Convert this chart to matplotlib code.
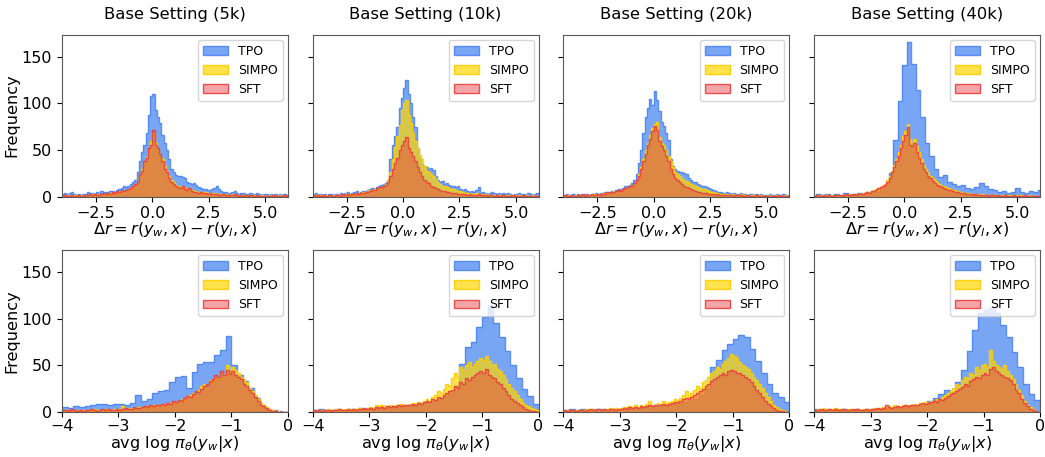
import numpy as np
import matplotlib.pyplot as plt
from matplotlib.patches import Patch

titles = ['Base Setting (5k)', 'Base Setting (10k)', 'Base Setting (20k)', 'Base Setting (40k)']

# ---- top row: reward margin, bins of 0.1 from -4 to 6 (40k TPO: 0.2 from -3.9) ----
tpo_dr_5k = [3,4,3,4,5,3,2,3,2,3, 3,5,4,4,3,5,4,6,5,5, 5,6,6,5,7,8,9,11,10,12,
             14,16,18,26,38,48,56,68,88,108, 110,93,85,79,66,58,50,40,30,27,
             23,22,22,21,20,16,15,14,15,13, 10,9,8,8,7,7,8,9,11,8,
             6,5,5,4,4,5,6,4,3,4, 4,3,3,4,3,3,4,3,2,3, 3,2,3,2,3,2,3,2,3,2]
simpo_dr_5k = [1,1,2,1,1,2,1,1,2,1, 2,1,2,3,2,2,3,2,3,3, 3,4,3,4,5,4,6,5,7,7,
               8,10,12,15,22,30,36,43,50,60, 68,58,50,44,40,33,28,22,18,16,
               13,11,10,11,9,8,9,7,6,6, 5,5,4,5,4,4,3,4,3,3,
               3,2,3,2,2,3,2,2,2,1, 2,2,1,2,1,2,1,1,2,1, 1,1,2,1,1,1,2,1,1,1]
sft_dr_5k = [1,2,1,1,2,1,1,2,1,1, 2,2,3,2,3,2,2,3,4,3, 4,3,5,4,6,5,7,6,7,8,
             9,11,14,16,24,28,38,42,52,56, 72,56,52,46,38,30,26,20,16,14,
             12,10,9,12,8,7,9,6,5,5, 4,5,4,4,3,4,3,3,3,2,
             2,3,2,2,2,2,3,2,1,2, 1,2,1,2,1,1,2,1,1,1, 1,1,1,2,1,1,1,1,2,1]

tpo_dr_10k = [3,4,2,3,2,3,2,3,3,2, 3,2,4,3,4,5,3,4,5,6, 4,5,6,6,7,8,9,8,10,12,
              13,14,15,18,40,56,65,75,95,106, 117,125,110,100,85,75,52,42,35,33,
              32,30,31,29,22,18,16,17,14,15, 13,11,12,10,11,8,7,8,6,5,
              6,5,7,10,4,5,4,3,4,5, 4,3,4,3,4,3,4,3,2,3, 3,4,3,3,2,4,3,2,3,4]
simpo_dr_10k = [1,2,1,2,1,1,2,1,1,2, 2,1,2,2,3,2,3,2,3,4, 3,4,5,5,6,7,6,8,9,10,
                10,12,14,18,26,40,53,65,77,93, 100,104,88,79,68,60,52,45,40,33,
                28,26,24,22,19,16,14,12,11,10, 9,8,8,7,6,6,5,4,4,4,
                3,3,4,3,3,2,3,2,2,2, 2,2,2,1,2,2,1,2,1,2, 1,2,1,1,2,1,1,2,1,1]
sft_dr_10k = [2,1,2,1,2,1,1,2,1,1, 2,2,1,3,2,3,2,3,3,4, 3,4,4,5,5,6,7,7,9,10,
              10,11,13,16,22,30,36,42,50,56, 60,64,52,48,44,38,32,26,22,18,
              16,15,12,10,9,8,7,6,6,5, 5,4,4,4,3,3,3,3,2,3,
              2,2,2,3,2,2,2,1,2,2, 1,2,1,1,2,1,1,1,2,1, 1,1,1,2,1,1,1,1,1,1]

tpo_dr_20k = [2,3,2,2,3,2,3,2,2,3, 3,2,3,3,4,3,4,4,5,5, 5,6,6,7,8,8,9,11,12,13,
              15,18,24,36,50,68,85,95,105,98, 113,104,92,80,76,68,61,40,33,30,
              28,27,26,25,24,20,18,16,16,14, 13,12,11,10,9,8,7,6,5,5,
              4,4,5,4,3,4,3,3,4,3, 3,2,3,3,2,3,2,3,2,2, 2,3,2,2,3,2,2,3,2,2]
simpo_dr_20k = [1,1,2,1,1,2,1,1,1,2, 2,2,2,3,2,3,3,3,4,4, 4,5,6,5,6,7,8,9,10,12,
                12,14,18,24,32,40,50,58,66,74, 78,80,64,58,56,50,44,38,32,27,
                24,22,20,18,17,15,14,13,11,10, 9,8,8,7,6,5,5,4,4,3,
                3,3,3,2,3,2,2,2,3,2, 2,2,1,2,2,1,2,2,1,1, 1,2,1,1,2,1,1,1,2,1]
sft_dr_20k = [2,1,1,2,1,1,2,1,3,1, 2,2,3,2,2,3,2,3,3,5, 4,5,5,6,7,6,8,9,10,11,
              12,15,18,22,30,38,46,55,62,70, 76,72,60,54,50,44,38,30,24,20,
              18,16,14,12,10,9,8,7,6,5, 5,4,4,4,3,3,3,2,3,2,
              2,2,2,2,2,1,2,2,2,1, 1,2,1,1,1,2,1,1,1,1, 1,1,1,1,1,2,1,1,1,1]

tpo_dr_40k = [3,2,3,2,3,2,4,3,3,4, 4,5,6,5,8,11,25,61,103,141,
              166,142,115,85,58,44,30,21,23,16, 14,12,13,9,8,10,15,12,8,7,
              5,6,4,5,9,5,4,6,5,7]
simpo_dr_40k = [2,1,2,1,1,2,1,2,1,1, 2,1,2,2,2,3,2,3,3,3, 3,4,4,5,5,6,7,8,9,10,
                12,14,18,22,28,34,40,48,56,65, 70,78,62,58,62,54,48,40,34,30,
                26,22,20,18,16,14,12,11,10,9, 8,7,7,6,5,5,4,4,4,3,
                3,3,3,2,3,2,2,2,2,2, 2,2,1,2,2,1,2,1,1,2, 1,2,1,1,1,2,1,1,1,1]
sft_dr_40k = [1,2,1,1,2,1,2,1,1,2, 2,2,1,2,3,2,2,3,2,3, 3,3,4,5,4,6,6,7,9,10,
              11,13,16,20,26,32,38,44,52,60, 66,75,56,54,58,48,42,36,30,26,
              22,20,17,15,13,12,10,9,8,7, 7,6,5,5,4,4,4,3,3,3,
              2,3,2,2,2,2,2,1,2,2, 1,2,1,1,2,1,1,1,2,1, 1,1,1,2,1,1,1,1,1,1]

# ---- bottom row: avg log-prob, TPO bins of 0.1, SIMPO / SFT bins of 0.05, from -4 to 0 ----
tpo_lp_5k = [5,4,6,5,6,8,9,9,7,9, 9,8,10,18,12,14,20,22,24,32,
             37,39,26,43,52,54,54,61,67,82, 50,40,33,26,15,8,3,2,1,0]
simpo_lp_5k = [2,1,2,1,1,2,1,2,2,1,2,3,2,1,2,3,2,2,3,2,
               3,6,2,3,4,3,4,5,4,5,6,5,7,6,8,7,9,8,10,11,
               10,12,14,13,16,18,20,17,24,28,30,26,34,32,38,36,42,40,50,44,
               48,45,42,38,35,32,26,22,18,14,10,8,5,3,2,1,1,0,0,0]
sft_lp_5k = [2,2,1,3,2,1,2,1,2,2,3,2,1,2,3,2,3,2,2,3,
             2,3,4,3,3,5,4,4,5,6,5,7,6,7,8,9,8,10,9,12,
             11,13,12,15,17,16,19,22,21,25,28,30,33,35,40,38,44,40,45,41,
             44,40,38,35,30,28,24,20,16,12,8,6,4,2,1,1,0,0,0,0]

tpo_lp_10k = [2,3,2,2,3,2,3,3,4,3, 4,5,6,5,6,7,8,8,9,10,
              11,12,14,17,20,28,52,70,75,91, 102,115,95,80,65,50,36,25,17,9]
simpo_lp_10k = [2,1,2,2,1,3,2,2,3,2,2,3,2,3,2,3,4,3,3,4,
                5,4,7,5,8,6,5,7,6,8,7,9,8,7,9,10,9,11,10,12,
                14,12,16,18,22,20,25,30,28,36,42,38,48,45,50,54,48,52,55,58,
                56,60,55,50,52,46,44,40,35,30,26,22,18,14,10,8,6,4,3,2]
sft_lp_10k = [2,1,2,1,2,2,1,2,2,3,2,2,3,2,3,2,3,3,4,3,
              4,3,5,4,5,4,6,5,6,5,7,6,7,8,7,9,8,10,9,11,
              12,11,14,13,16,15,18,20,22,24,28,26,32,30,36,34,38,40,42,44,
              42,46,40,38,36,32,30,26,22,18,14,12,10,7,5,3,2,1,1,0]

tpo_lp_20k = [2,3,2,3,2,3,3,2,3,3, 3,4,4,5,5,6,7,7,8,9,
              10,11,12,14,18,25,48,56,66,73, 78,83,80,68,55,42,30,20,16,11]
simpo_lp_20k = [1,2,1,2,2,1,2,2,3,2,3,2,3,2,3,3,4,3,4,3,
                4,5,4,6,5,7,5,8,6,9,12,7,8,10,9,12,10,11,12,14,
                13,15,18,22,16,20,24,28,26,32,34,38,42,44,48,46,52,55,58,62,
                60,58,54,50,48,46,42,38,34,30,26,20,16,12,8,5,3,2,1,0]
sft_lp_20k = [2,1,2,2,1,2,2,1,2,3,2,2,3,2,3,2,3,3,2,3,
              3,4,3,5,4,5,4,6,5,6,7,6,7,8,7,9,8,9,10,11,
              11,12,14,15,14,16,18,20,22,25,28,30,33,35,38,40,42,40,44,45,
              44,42,42,40,38,35,32,28,24,20,16,12,9,6,4,2,1,1,0,0]

tpo_lp_40k = [3,2,3,2,3,3,2,3,2,3, 3,3,4,4,5,5,6,7,8,9,
              12,15,19,24,21,32,45,65,88,106, 109,112,106,93,80,64,48,30,19,13]
simpo_lp_40k = [2,3,2,4,3,2,3,4,3,2,3,2,3,2,2,3,2,3,2,3,
                3,4,3,4,5,4,6,5,7,6,5,7,6,8,7,9,8,10,9,11,
                10,12,11,14,13,16,18,20,22,26,30,28,34,38,36,42,40,48,45,50,
                52,48,66,55,50,48,46,50,44,40,35,30,24,18,12,8,5,3,1,0]
sft_lp_40k = [2,2,3,2,2,3,2,3,2,2,3,2,2,3,2,3,2,2,3,2,
              3,3,4,3,4,8,5,4,5,6,5,6,7,6,8,7,8,9,10,9,
              10,11,12,11,14,13,15,17,19,20,22,25,27,30,28,33,35,38,36,40,
              42,40,46,48,44,42,40,38,36,34,30,24,20,14,10,6,3,2,1,0]

top_tpo = [tpo_dr_5k, tpo_dr_10k, tpo_dr_20k, tpo_dr_40k]
top_simpo = [simpo_dr_5k, simpo_dr_10k, simpo_dr_20k, simpo_dr_40k]
top_sft = [sft_dr_5k, sft_dr_10k, sft_dr_20k, sft_dr_40k]
bot_tpo = [tpo_lp_5k, tpo_lp_10k, tpo_lp_20k, tpo_lp_40k]
bot_simpo = [simpo_lp_5k, simpo_lp_10k, simpo_lp_20k, simpo_lp_40k]
bot_sft = [sft_lp_5k, sft_lp_10k, sft_lp_20k, sft_lp_40k]

TPO_FACE, TPO_EDGE = (0.12, 0.41, 0.93, 0.6), (0.30, 0.52, 0.95, 0.9)
SIMPO_FACE, SIMPO_EDGE = (1.0, 0.84, 0.0, 0.7), (1.0, 0.80, 0.0, 0.9)
SFT_FACE, SFT_EDGE = (0.91, 0.22, 0.24, 0.45), (0.93, 0.25, 0.25, 0.9)


def draw_hist(ax, counts, start, width, face, edge):
    counts = np.asarray(counts, dtype=float)
    edges = start + width * np.arange(len(counts) + 1)
    ax.stairs(counts, edges, fill=True, color=face, linewidth=0)
    ax.stairs(counts, edges, color=edge, linewidth=1.0)


fig, axes = plt.subplots(2, 4, figsize=(10.45, 4.57), dpi=100, sharey=True)
fig.subplots_adjust(left=0.0593, right=0.9952, top=0.9245, bottom=0.0985,
                    wspace=0.11, hspace=0.327)

handles = [Patch(facecolor=TPO_FACE, edgecolor=TPO_EDGE, label='TPO'),
           Patch(facecolor=SIMPO_FACE, edgecolor=SIMPO_EDGE, label='SIMPO'),
           Patch(facecolor=SFT_FACE, edgecolor=SFT_EDGE, label='SFT')]

for i in range(4):
    ax = axes[0, i]
    if i == 3:
        draw_hist(ax, top_tpo[i], -3.9, 0.2, TPO_FACE, TPO_EDGE)
    else:
        draw_hist(ax, top_tpo[i], -4.0, 0.1, TPO_FACE, TPO_EDGE)
    draw_hist(ax, top_simpo[i], -4.0, 0.1, SIMPO_FACE, SIMPO_EDGE)
    draw_hist(ax, top_sft[i], -4.0, 0.1, SFT_FACE, SFT_EDGE)
    ax.set_xlim(-4, 6)
    ax.set_xticks([-2.5, 0.0, 2.5, 5.0])
    ax.set_title(titles[i], fontsize=11.8, pad=11)
    ax.set_xlabel(r'$\Delta r = r(y_w, x) - r(y_l, x)$', fontsize=11.6, labelpad=-1)

    ax = axes[1, i]
    draw_hist(ax, bot_tpo[i], -4.0, 0.1, TPO_FACE, TPO_EDGE)
    draw_hist(ax, bot_simpo[i], -4.0, 0.05, SIMPO_FACE, SIMPO_EDGE)
    draw_hist(ax, bot_sft[i], -4.0, 0.05, SFT_FACE, SFT_EDGE)
    ax.set_xlim(-4, 0)
    ax.set_xticks([-4, -3, -2, -1, 0])
    ax.tick_params(axis='x', pad=1.5)
    ax.set_xlabel(r'avg $\log\,\pi_\theta(y_w|x)$', fontsize=11.6, labelpad=0)

for ax in axes.flat:
    ax.set_ylim(0, 174)
    ax.set_yticks([0, 50, 100, 150])
    ax.tick_params(labelsize=11.5)
    for s in ax.spines.values():
        s.set_edgecolor('0.35')
    ax.legend(handles=handles, loc='upper right', fontsize=9, framealpha=0.8,
              borderaxespad=0.4)

axes[0, 0].set_ylabel('Frequency', fontsize=11.6, labelpad=2)
axes[1, 0].set_ylabel('Frequency', fontsize=11.6, labelpad=2)

fig.savefig('out.png', dpi=100)
